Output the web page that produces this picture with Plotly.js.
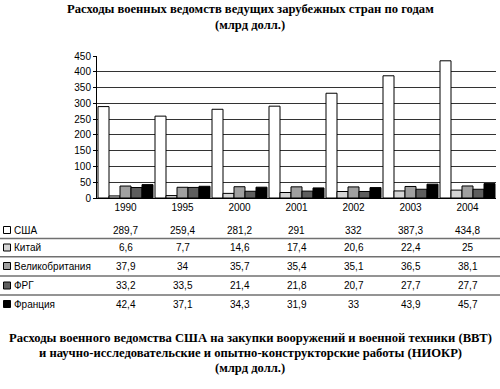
<!DOCTYPE html>
<html><head><meta charset="utf-8">
<script src="https://cdn.plot.ly/plotly-3.0.1.min.js"></script>
<style>body{margin:0;padding:0;background:#fff}#chart{width:500px;height:389px}</style>
</head><body><div id="chart"></div>
<script>
var years = ['1990','1995','2000','2001','2002','2003','2004'];
var seriesNames = ['США','Китай','Великобритания','ФРГ','Франция'];
var usa = [289.7, 259.4, 281.2, 291, 332, 387.3, 434.8];
var china = [6.6, 7.7, 14.6, 17.4, 20.6, 22.4, 25];
var uk = [37.9, 34, 35.7, 35.4, 35.1, 36.5, 38.1];
var frg = [33.2, 33.5, 21.4, 21.8, 20.7, 27.7, 27.7];
var france = [42.4, 37.1, 34.3, 31.9, 33, 43.9, 45.7];
var allSeries = [usa, china, uk, frg, france];
var colors = ['#ffffff','#d4d4d4','#a0a0a0','#5e5e5e','#000000'];
var title1 = 'Расходы военных ведомств ведущих зарубежных стран по годам';
var title2 = '(млрд долл.)';
var foot = ['Расходы военного ведомства США на закупки вооружений и военной техники (ВВТ)',
            'и научно-исследовательские и опытно-конструкторские работы (НИОКР)',
            '(млрд долл.)'];

var W = 500, H = 389, mt = 56, mb = 191, ml = 97, mr = 4;
var plotBottom = H - mb, plotH = H - mt - mb;
function P(py){ return (plotBottom - py) / plotH; }
function PX(px){ return (px - ml) / (W - ml - mr); }
function fmt(v){ return String(v).replace('.', ','); }
var idx = years.map(function(y, i){ return i; });

var traces = allSeries.map(function(vals, i){
  return {type:'bar', x: idx, y: vals, name: seriesNames[i],
    marker:{color: colors[i], line:{color:'#000', width:1}}, hoverinfo:'none'};
});

var sans = 'Liberation Sans, Arial, sans-serif';
var serif = 'Liberation Serif, Times New Roman, serif';
var annotations = [], shapes = [];
var titleFont = {family: serif, size: 12.6, color:'#000'};
function titleAnn(text, py){
  return {xref:'paper', yref:'paper', x:PX(250), y:P(py), text:'<b>'+text+'</b>', showarrow:false,
    font:titleFont, xanchor:'center', yanchor:'middle', borderpad:0};
}
annotations.push(titleAnn(title1, 9));
annotations.push(titleAnn(title2, 25));
var footY = [338, 353, 368];
foot.forEach(function(t, i){ annotations.push(titleAnn(t, footY[i])); });

var rowY = [230, 247.5, 266, 285.5, 304];
var sepY = [238.5, 256.8, 276, 295];
var cellFont = {family: sans, size: 10, color:'#000'};
seriesNames.forEach(function(n, i){
  shapes.push({type:'rect', xref:'paper', yref:'paper', x0:PX(3.5), x1:PX(10.5), y0:P(rowY[i]-3.5), y1:P(rowY[i]+3.5),
    fillcolor: colors[i], line:{color:'#000', width:1}});
  annotations.push({xref:'paper', yref:'paper', x:PX(12), y:P(rowY[i]), text:n, showarrow:false, font:cellFont, xanchor:'left', yanchor:'middle'});
  allSeries[i].forEach(function(v, j){
    annotations.push({xref:'x', yref:'paper', x:idx[j], y:P(rowY[i]), text:fmt(v), showarrow:false, font:cellFont, xanchor:'center', yanchor:'middle'});
  });
});
sepY.forEach(function(y){
  shapes.push({type:'line', xref:'paper', yref:'paper', x0:PX(0), x1:PX(500), y0:P(y), y1:P(y), line:{color:'#707070', width:1.5}});
});

var layout = {
  width: W, height: H,
  margin:{l:ml, r:mr, t:mt, b:mb, pad:0},
  paper_bgcolor:'#fff', plot_bgcolor:'#fff',
  barmode:'group', bargap:0.035, bargroupgap:0,
  showlegend:false,
  font:{family: sans, size:10, color:'#000'},
  xaxis:{type:'linear', range:[-0.5, 6.5], tickmode:'array', tickvals: idx, ticktext: years,
    showgrid:false, zeroline:false, showline:true, linecolor:'#000', linewidth:1,
    ticks:'', tickfont:{family:sans, size:10, color:'#000'}, fixedrange:true},
  yaxis:{range:[0,450], dtick:50, tick0:0, showgrid:true, gridcolor:'#333', gridwidth:1, zeroline:false,
    showline:true, linecolor:'#000', linewidth:1, ticks:'outside', ticklen:3, tickcolor:'#000',
    tickfont:{family:sans, size:10, color:'#000'}, fixedrange:true},
  annotations: annotations, shapes: shapes
};
Plotly.newPlot('chart', traces, layout, {displayModeBar:false, staticPlot:true});
</script></body></html>
